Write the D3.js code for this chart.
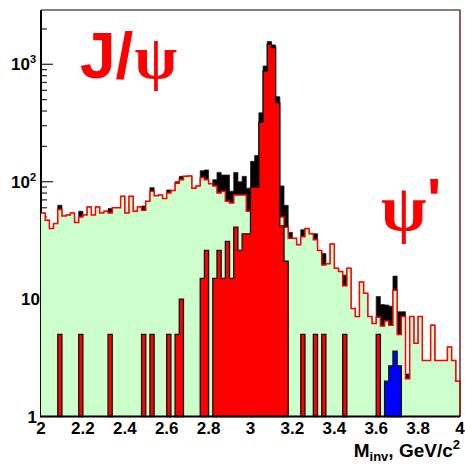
<!DOCTYPE html>
<html>
<head>
<meta charset="utf-8">
<script src="https://cdn.jsdelivr.net/npm/d3@7"></script>
<style>
  body { margin: 0; background: #fff; }
  svg { display: block; }
  .tick-label { font-family: "Liberation Sans", Arial, sans-serif; font-weight: bold; }
</style>
</head>
<body>
<div id="chart"></div>
<script>
// histogram range (GeV/c^2), 100 bins
const xMin = 2, xMax = 4;

// background (green fill, red line)
const bkg = [
  54, 47, 40, 44, 58, 51, 52, 54, 45, 50,
  52, 61, 52, 61, 54, 56, 54, 60, 60, 75,
  54, 75, 56, 61, 57, 68, 83, 76, 77, 72,
  80, 84, 97, 104, 111, 112, 88, 92, 108, 104,
  96, 92, 80, 83, 68, 66, 77, 77, 77, 56,
  60, 77, 65, 90, 81, 75, 59, 50, 41, 33,
  33, 29, 34, 40, 36, 32, 26, 19.5, 20, 29.5,
  18.3, 17.2, 13, 18.3, 8.3, 7.1, 14, 11.2, 7.1, 6.2,
  7, 5.9, 6.5, 6, 11.9, 5, 7.1, 2.1, 7.1, 4.2,
  7.1, 3, 3, 6, 3, 3, 3, 3.9, 3, 2
];

// J/psi signal (red)
const jpsi = [
  0, 0, 0, 0, 5, 0, 0, 0, 0, 5,
  0, 0, 0, 0, 0, 0, 5, 0, 0, 0,
  0, 0, 0, 0, 5, 0, 5, 0, 0, 0,
  5, 0, 5, 10, 0, 0, 0, 0, 15, 26,
  0, 15, 26, 15, 31, 15, 41, 26, 36, 36,
  90, 90, 321, 877, 1483, 1387, 471, 42, 21, 0,
  0, 0, 5, 0, 0, 5, 0, 5, 0, 0,
  0, 0, 5, 0, 0, 0, 0, 0, 0, 0,
  5, 0, 0, 0, 0, 0, 0, 0, 0, 0,
  0, 0, 0, 0, 0, 0, 0, 0, 0, 0
];

// psi' signal (blue)
const psi2 = [
  0, 0, 0, 0, 0, 0, 0, 0, 0, 0,
  0, 0, 0, 0, 0, 0, 0, 0, 0, 0,
  0, 0, 0, 0, 0, 0, 0, 0, 0, 0,
  0, 0, 0, 0, 0, 0, 0, 0, 0, 0,
  0, 0, 0, 0, 0, 0, 0, 0, 0, 0,
  0, 0, 0, 0, 0, 0, 0, 0, 0, 0,
  0, 0, 0, 0, 0, 0, 0, 0, 0, 0,
  0, 0, 0, 0, 0, 0, 0, 0, 0, 0,
  0, 0, 2, 2.7, 3.6, 2.7, 0, 0, 0, 0,
  0, 0, 0, 0, 0, 0, 0, 0, 0, 0
];

// all entries (black)
const total = [
  54, 47, 40, 44, 63, 51, 52, 54, 45, 56,
  52, 61, 52, 61, 54, 56, 59, 60, 60, 75,
  54, 75, 56, 61, 62, 68, 89, 76, 77, 72,
  85, 84, 100, 111, 111, 112, 88, 92, 124, 126,
  96, 104, 120, 114, 114, 83, 120, 100, 111, 88,
  149, 167, 386, 967, 1564, 1462, 530, 92, 63, 37,
  33, 29, 39, 40, 36, 36, 26, 24.5, 20, 29.5,
  18.3, 17.2, 16, 18.3, 8.3, 7.1, 14, 11.2, 7.1, 6.2,
  10.5, 9, 8.9, 8.7, 15.7, 7.8, 7.8, 2.3, 7.1, 4.2,
  7.1, 3, 3, 6, 3, 3, 3, 3.9, 3, 2
];

const xTickVals = [2, 2.2, 2.4, 2.6, 2.8, 3, 3.2, 3.4, 3.6, 3.8, 4];
const xTickLabels = ["2", "2.2", "2.4", "2.6", "2.8", "3", "3.2", "3.4", "3.6", "3.8", "4"];
const yTickVals = [1, 10, 100, 1000];
const yMax = 2900;

const W = 465, H = 465;
const frame = { left: 41, right: 460, top: 10, bottom: 416.5 };
const nBins = bkg.length;

const svg = d3.select('#chart').append('svg')
  .attr('width', W).attr('height', H);

const x = d3.scaleLinear().domain([xMin, xMax]).range([frame.left, frame.right]);
const y = d3.scaleLog().domain([1, yMax]).range([frame.bottom, frame.top]);

const edge = i => x(xMin + i * (xMax - xMin) / nBins);

// y axis ticks (log, minor at 2..9)
const yMinor = [];
for (let d = 1; d <= 1000; d *= 10) {
  for (let k = 1; k <= 9; k++) if (d * k <= yMax) yMinor.push(d * k);
}
svg.append('g').selectAll('line').data(yMinor).enter().append('line')
  .attr('x1', frame.left).attr('x2', d => frame.left + (yTickVals.includes(d) ? 12 : 6))
  .attr('y1', d => y(d)).attr('y2', d => y(d))
  .attr('stroke', '#333').attr('stroke-width', 1.3);

// x axis ticks (under the fills)
svg.append('g').selectAll('line').data(d3.range(xMin, xMax + 0.001, 0.05)).enter().append('line')
  .attr('x1', d => x(d)).attr('x2', d => x(d))
  .attr('y1', frame.bottom).attr('y2', (d, i) => frame.bottom - (i % 4 === 0 ? 12 : 6))
  .attr('stroke', '#333');

// left axis line
svg.append('line').attr('x1', frame.left).attr('x2', frame.left)
  .attr('y1', frame.top).attr('y2', frame.bottom)
  .attr('stroke', '#000').attr('stroke-width', 2);

function runs(vals) {
  const out = [];
  let cur = null;
  vals.forEach((v, i) => {
    if (v > 0) { if (!cur) { cur = [i, i]; out.push(cur); } else cur[1] = i; }
    else cur = null;
  });
  return out;
}

function stepPts(vals, a, b) {
  const pts = [[edge(a), y(1)]];
  for (let i = a; i <= b; i++) {
    pts.push([edge(i), y(vals[i])]);
    pts.push([edge(i + 1), y(vals[i])]);
  }
  pts.push([edge(b + 1), y(1)]);
  return pts;
}

const line = d3.line();

// total (black)
runs(total).forEach(([a, b]) => {
  svg.append('path').attr('d', line(stepPts(total, a, b)) + 'Z')
    .attr('fill', '#000').attr('stroke', '#222').attr('stroke-width', 0.8);
});

// background
const bPts = stepPts(bkg, 0, nBins - 1);
svg.append('path').attr('d', line(bPts) + 'Z').attr('fill', '#ccffcc').attr('stroke', 'none');
svg.append('path').attr('d', line(bPts.slice(1)))
  .attr('fill', 'none').attr('stroke', '#ff0000').attr('stroke-width', 1.5);

// signals
function drawSignal(vals, color) {
  runs(vals).forEach(([a, b]) => {
    svg.append('path').attr('d', line(stepPts(vals, a, b)) + 'Z')
      .attr('fill', color).attr('stroke', '#111').attr('stroke-width', 1.3);
  });
}
drawSignal(jpsi, '#ff0000');
drawSignal(psi2, '#0000ff');

// frame
svg.append('line').attr('x1', frame.left).attr('x2', frame.right)
  .attr('y1', frame.top).attr('y2', frame.top)
  .attr('stroke', '#555').attr('stroke-width', 1.5);
svg.append('line').attr('x1', frame.right).attr('x2', frame.right)
  .attr('y1', frame.top).attr('y2', frame.bottom)
  .attr('stroke', '#7a2020').attr('stroke-width', 1.5);
svg.append('line').attr('x1', frame.left - 1).attr('x2', frame.right)
  .attr('y1', frame.bottom).attr('y2', frame.bottom)
  .attr('stroke', '#000').attr('stroke-width', 2);

// x tick labels
svg.append('g').selectAll('text').data(xTickVals).enter().append('text')
  .attr('class', 'tick-label')
  .attr('x', d => x(d)).attr('y', 434)
  .attr('text-anchor', 'middle').attr('font-size', 17)
  .text((d, i) => xTickLabels[i]);

// y tick labels
yTickVals.forEach(v => {
  const exp = Math.round(Math.log10(v));
  const t = svg.append('text').attr('class', 'tick-label')
    .attr('y', y(v) + 6).attr('font-size', 17).attr('text-anchor', 'end');
  if (exp === 0) { t.attr('x', 37).text('1'); }
  else if (exp === 1) { t.attr('x', 40).text('10'); }
  else {
    t.attr('x', 36);
    t.append('tspan').text('10');
    t.append('tspan').attr('font-size', 11).attr('dy', -7).text(String(exp));
  }
});

// axis title
const ttl = svg.append('text').attr('class', 'tick-label')
  .attr('x', 460).attr('y', 457).attr('text-anchor', 'end').attr('font-size', 19);
ttl.append('tspan').text('M');
ttl.append('tspan').attr('font-size', 13).attr('dy', 4).text('inv');
ttl.append('tspan').attr('dy', -4).text(', GeV/c');
ttl.append('tspan').attr('font-size', 13).attr('dy', -8).text('2');

// labels
const serif = '"Liberation Serif", "Times New Roman", serif';
const jl = svg.append('text').attr('x', 80).attr('y', 78).attr('fill', '#ff0000');
jl.append('tspan').attr('font-family', '"Liberation Sans", Arial, sans-serif')
  .attr('font-weight', 'bold').attr('font-size', 64).text('J/');
jl.append('tspan').attr('font-family', serif).attr('font-weight', 'bold')
  .attr('font-size', 62).attr('dx', 1).text('ψ');

svg.append('text').attr('x', 381).attr('y', 230).attr('fill', '#ff0000')
  .attr('font-family', serif).attr('font-weight', 'bold')
  .attr('font-size', 66).text('ψ');
svg.append('text').attr('x', 427).attr('y', 220).attr('fill', '#ff0000')
  .attr('font-family', '"Liberation Sans", Arial, sans-serif').attr('font-weight', 'bold')
  .attr('font-size', 60).text("'");
</script>
</body>
</html>
